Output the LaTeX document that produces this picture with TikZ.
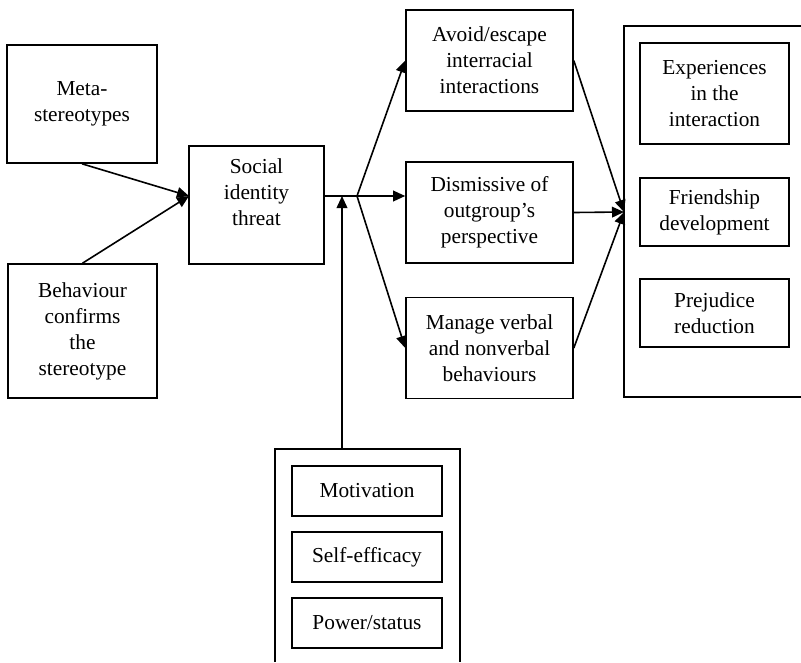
\documentclass[tikz,border=0pt]{standalone}
\usepackage{fontspec}
\setmainfont{Liberation Serif}
\usetikzlibrary{arrows.meta}

\begin{document}
\begin{tikzpicture}[x=0.75pt,y=-0.75pt,
  box/.style={draw, line width=1.2pt, align=center, inner sep=0pt,
    font=\fontsize{16}{19.5}\selectfont},
  midbox/.style={box, minimum width=125.25pt, minimum height=75.5pt},
  outbox/.style={box, minimum width=111.75pt},
  modbox/.style={box, minimum width=112.5pt, minimum height=37.5pt},
  arr/.style={line width=1.2pt, -{Triangle[length=9pt,width=8pt]}}]
  \useasboundingbox (0,0) rectangle (801,662);

  %% inputs
  \node[box, minimum width=112.5pt, minimum height=88.5pt] (meta) at (82,104) {Meta-\\stereotypes};
  \node[box, minimum width=111.75pt, minimum height=100.5pt] (behav) at (82.5,331) {Behaviour\\confirms\\the\\stereotype};

  %% threat
  \node[box, minimum width=101.25pt, minimum height=88.5pt, text depth=20pt] (threat) at (256.5,205) {Social\\identity\\threat};
  \coordinate (tin) at (189,196);
  \coordinate (split) at (357,196);

  %% responses
  \node[midbox] (avoid) at (489.5,60.5) {Avoid/escape\\interracial\\interactions};
  \node[midbox] (dismiss) at (489.5,212.5) {Dismissive of\\outgroup's\\perspective};
  \node[midbox] (manage) at (489.5,348) {Manage verbal\\and nonverbal\\behaviours};

  %% outcomes
  \draw[line width=1.2pt] (801,26) -- (624,26) -- (624,397) -- (801,397);
  \coordinate (join) at (624,212);
  \node[outbox, minimum height=75.75pt] (exper) at (714.5,93.5) {Experiences\\in the\\interaction};
  \node[outbox, minimum height=51pt] (friend) at (714.5,212) {Friendship\\development};
  \node[outbox, minimum height=51pt] (prej) at (714.5,313) {Prejudice\\reduction};

  %% moderators
  \draw[line width=1.2pt] (275,662) -- (275,449) -- (460,449) -- (460,662);
  \coordinate (modtop) at (342,449);
  \node[modbox] (motiv) at (367,491) {Motivation};
  \node[modbox] (selfeff) at (367,557) {Self-efficacy};
  \node[modbox] (power) at (367,623) {Power/status};

  %% arrows
  \draw[arr] (meta.south) -- (tin);
  \draw[arr] (behav.north) -- (tin);
  \draw[line width=1.2pt] (threat.east |- split) -- (split);
  \draw[arr] (modtop) -- (modtop |- split);
  \draw[arr] (split) -- (avoid.west);
  \draw[arr] (split) -- (dismiss.west |- split);
  \draw[arr] (split) -- (manage.west);
  \draw[arr] (avoid.east) -- (join);
  \draw[arr] (dismiss.east) -- (join);
  \draw[arr] (manage.east) -- (join);

\end{tikzpicture}
\end{document}
